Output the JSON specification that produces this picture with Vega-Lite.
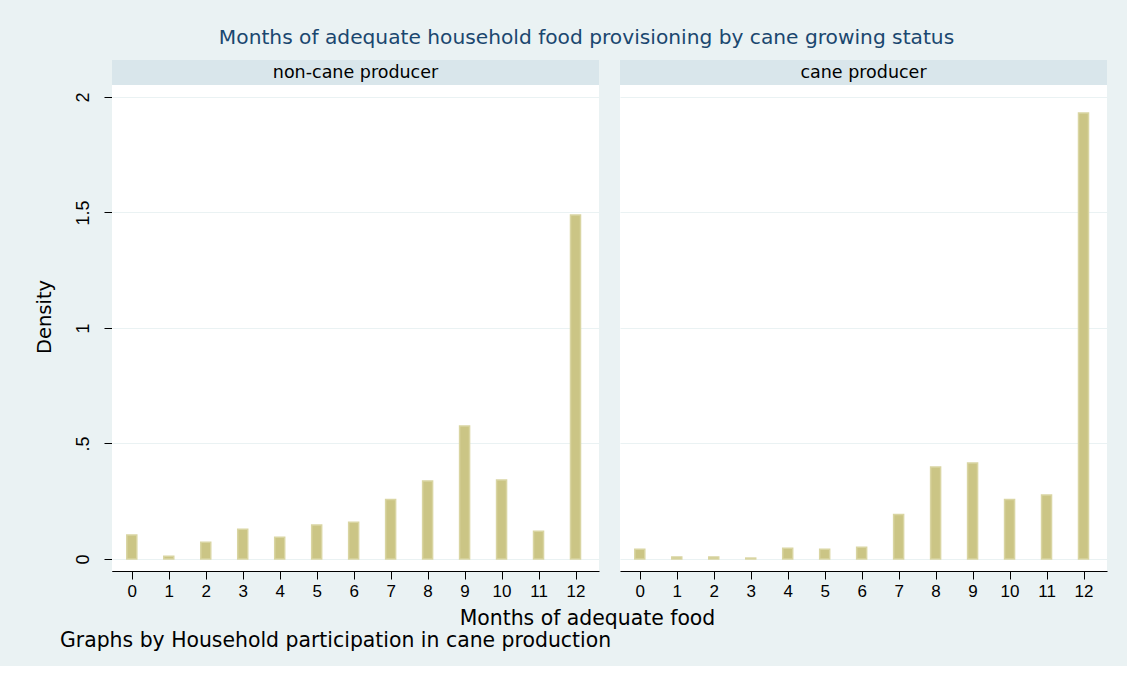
{
  "$schema": "https://vega.github.io/schema/vega-lite/v6.json",
  "background": "#eaf2f3",
  "padding": {"left": 33, "top": 27, "right": 20, "bottom": 14},
  "title": {
    "text": "Months of adequate household food provisioning by cane growing status",
    "anchor": "middle",
    "fontSize": 20.2,
    "font": "DejaVu Sans",
    "fontWeight": "normal",
    "color": "#1a476f",
    "offset": 12,
    "dx": 16
  },
  "vconcat": [
    {
      "title": {
        "text": "Graphs by Household participation in cane production",
        "orient": "bottom",
        "anchor": "start",
        "frame": "bounds",
        "fontSize": 20.4,
        "font": "DejaVu Sans",
        "fontWeight": "normal",
        "color": "#000000",
        "offset": 2,
        "dx": 26
      },
      "vconcat": [
        {
          "title": {
            "text": "Months of adequate food",
            "orient": "bottom",
            "anchor": "middle",
            "fontSize": 20.4,
            "font": "DejaVu Sans",
            "fontWeight": "normal",
            "color": "#000000",
            "offset": 10,
            "dx": 17
          },
          "vconcat": [
            {
              "data": {
                "values": [
                  {"panel": "non-cane producer", "month": 0, "density": 0.104},
                  {"panel": "non-cane producer", "month": 1, "density": 0.012},
                  {"panel": "non-cane producer", "month": 2, "density": 0.072},
                  {"panel": "non-cane producer", "month": 3, "density": 0.129},
                  {"panel": "non-cane producer", "month": 4, "density": 0.094},
                  {"panel": "non-cane producer", "month": 5, "density": 0.147},
                  {"panel": "non-cane producer", "month": 6, "density": 0.159},
                  {"panel": "non-cane producer", "month": 7, "density": 0.258},
                  {"panel": "non-cane producer", "month": 8, "density": 0.338},
                  {"panel": "non-cane producer", "month": 9, "density": 0.576},
                  {"panel": "non-cane producer", "month": 10, "density": 0.342},
                  {"panel": "non-cane producer", "month": 11, "density": 0.12},
                  {"panel": "non-cane producer", "month": 12, "density": 1.489},
                  {"panel": "cane producer", "month": 0, "density": 0.042},
                  {"panel": "cane producer", "month": 1, "density": 0.009},
                  {"panel": "cane producer", "month": 2, "density": 0.009},
                  {"panel": "cane producer", "month": 3, "density": 0.004},
                  {"panel": "cane producer", "month": 4, "density": 0.046},
                  {"panel": "cane producer", "month": 5, "density": 0.042},
                  {"panel": "cane producer", "month": 6, "density": 0.051},
                  {"panel": "cane producer", "month": 7, "density": 0.193},
                  {"panel": "cane producer", "month": 8, "density": 0.398},
                  {"panel": "cane producer", "month": 9, "density": 0.416},
                  {"panel": "cane producer", "month": 10, "density": 0.258},
                  {"panel": "cane producer", "month": 11, "density": 0.277},
                  {"panel": "cane producer", "month": 12, "density": 1.931}
                ]
              },
              "spacing": 21,
              "facet": {
                "column": {
                  "field": "panel",
                  "type": "nominal",
                  "sort": ["non-cane producer", "cane producer"],
                  "header": {"labels": false, "title": null}
                }
              },
              "spec": {
                "width": 487,
                "height": 509,
                "layer": [
                  {
                    "transform": [{"aggregate": [{"op": "count", "as": "n"}], "groupby": ["panel"]}],
                    "mark": {"type": "rect", "color": "#d9e6eb", "strokeWidth": 0},
                    "encoding": {
                      "y": {"datum": 2.052, "type": "quantitative"},
                      "y2": {"datum": 2.16}
                    }
                  },
                  {
                    "mark": {"type": "bar", "size": 10, "fill": "#cbc585", "stroke": "#d9d5a2", "strokeWidth": 1.5},
                    "encoding": {
                      "x": {
                        "field": "month",
                        "type": "quantitative",
                        "scale": {"domain": [-0.4, 12.5], "nice": false, "zero": false},
                        "axis": {
                          "values": [0, 1, 2, 3, 4, 5, 6, 7, 8, 9, 10, 11, 12],
                          "title": null,
                          "grid": false,
                          "labelFontSize": 17,
                          "labelFont": "Liberation Sans",
                          "labelColor": "#000000",
                          "labelFlush": false,
                          "labelPadding": 4,
                          "tickSize": 8,
                          "tickColor": "#000000",
                          "domainColor": "#000000",
                          "format": "d"
                        }
                      },
                      "y": {
                        "field": "density",
                        "type": "quantitative",
                        "scale": {"domain": [-0.052, 2.1515], "nice": false, "zero": false},
                        "axis": {
                          "values": [0, 0.5, 1, 1.5, 2],
                          "labelExpr": "replace(format(datum.value, ''), '0.', '.')",
                          "title": "Density",
                          "titleFontSize": 19.5,
                          "titleFont": "DejaVu Sans",
                          "titleFontWeight": "normal",
                          "titleColor": "#000000",
                          "titlePadding": 20,
                          "labelAngle": -90,
                          "labelAlign": "center",
                          "labelBaseline": "bottom",
                          "labelFontSize": 18,
                          "labelFont": "Liberation Sans",
                          "labelColor": "#000000",
                          "labelPadding": 12,
                          "tickSize": 8,
                          "tickColor": "#000000",
                          "domainColor": "#000000",
                          "grid": true,
                          "gridColor": "#eaf2f3",
                          "gridWidth": 1.2
                        }
                      }
                    }
                  },
                  {
                    "transform": [{"aggregate": [{"op": "count", "as": "n"}], "groupby": ["panel"]}],
                    "mark": {"type": "text", "fontSize": 17.5, "font": "DejaVu Sans", "color": "#000000", "baseline": "middle", "align": "center"},
                    "encoding": {
                      "x": {"datum": 6.05, "type": "quantitative"},
                      "y": {"datum": 2.104, "type": "quantitative"},
                      "text": {"field": "panel", "type": "nominal"}
                    }
                  }
                ]
              }
            }
          ]
        }
      ]
    }
  ],
  "config": {
    "view": {"fill": "#ffffff", "stroke": null},
    "font": "Liberation Sans"
  }
}
